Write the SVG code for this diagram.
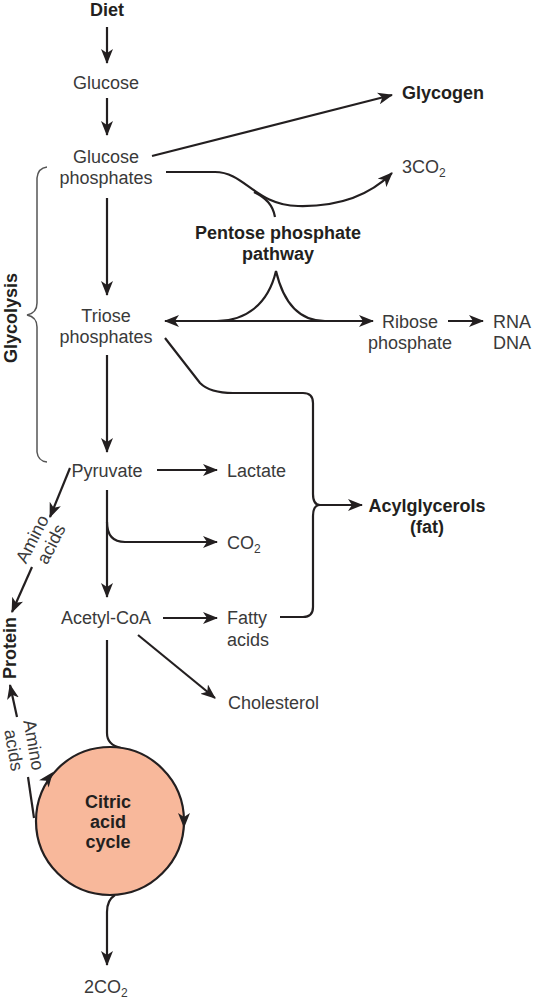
<svg xmlns="http://www.w3.org/2000/svg" width="537" height="999" viewBox="0 0 537 999">
<defs>
<marker id="ah" viewBox="0 0 15 12" refX="14" refY="6" markerWidth="15" markerHeight="12" orient="auto-start-reverse" markerUnits="userSpaceOnUse"><path d="M0,0 L15,6 L0,12 L4,6 z" fill="#231f20"/></marker>
</defs>
<style>
text{font-family:"Liberation Sans",Arial,sans-serif;font-size:18px;fill:#3a3a3a}
.b{font-weight:bold;fill:#231f20}
.m{text-anchor:middle}
.sub{font-size:12px}
.ln{fill:none;stroke:#231f20;stroke-width:2.2}
.ar{marker-end:url(#ah)}
.thin{fill:none;stroke:#555;stroke-width:1.5}
</style>
<rect width="537" height="999" fill="#fff"/>
<g id="connectors">
<path class="ln ar" d="M107,27 L107,63"/>
<path class="ln ar" d="M107,98 L107,135"/>
<path class="ln ar" d="M152,156 L392,95"/>
<path class="ln ar" d="M166,172 L215,172 C245,172 255,205 298,206 C340,207 370,195 392,173"/>
<path class="ln" d="M275,217 C273,205 266,198 254,192"/>
<path class="ln ar" d="M107,198 L107,295"/>
<path class="ln" d="M165,321 L373,321" marker-start="url(#ah)" marker-end="url(#ah)"/>
<path class="ln" d="M217,321 C245,321 268,305 276,271 C284,305 300,321 325,321"/>
<path class="ln ar" d="M448,321 L483,321"/>
<path class="ln ar" d="M107,355 L107,452"/>
<path class="ln" d="M165,338 L200,383 Q210,393 233,393 L303,393 Q313,393 313,403 L313,494 Q313,505 320,505 Q313,505 313,516 L313,607 Q313,617 303,617 L280,617"/>
<path class="ln ar" d="M318,505 L362,505"/>
<path class="ln ar" d="M157,470 L217,470"/>
<path class="ln ar" d="M107,490 L107,597"/>
<path class="ln ar" d="M107,522 Q107,542 125,542 L217,542"/>
<path class="ln ar" d="M163,618 L217,618"/>
<path class="ln ar" d="M138,635 L215,698"/>
<path class="ln ar" d="M70,468 L50,517"/>
<path class="ln ar" d="M32,567 L12,612"/>
<path class="ln" d="M107,640 L107,733 Q107,745 121,748"/>
<path class="ln" d="M34,818 L28,777"/>
<path class="ln ar" d="M17,717 L10,685"/>
<path class="ln ar" d="M115,895 Q107,900 107,912 L107,965"/>
<path class="thin" d="M47,167 Q38,168 37,178 L37,303 Q37,313 27,315 Q37,317 37,327 L37,452 Q38,461 47,462"/>
</g>
<g id="diet"><text class="b m" x="107" y="16">Diet</text></g>
<g id="glucose"><text class="m" x="106" y="89">Glucose</text></g>
<g id="glucose-phosphates"><text class="m" x="106" y="163">Glucose</text><text class="m" x="106" y="184">phosphates</text></g>
<g id="glycogen"><text class="b" x="402" y="99">Glycogen</text></g>
<g id="co2-3"><text x="402" y="173">3CO<tspan class="sub" dy="4">2</tspan></text></g>
<g id="ppp"><text class="b m" x="278" y="239">Pentose phosphate</text><text class="b m" x="278" y="260">pathway</text></g>
<g id="triose"><text class="m" x="106" y="322">Triose</text><text class="m" x="106" y="343">phosphates</text></g>
<g id="ribose"><text class="m" x="410" y="328">Ribose</text><text class="m" x="410" y="349">phosphate</text></g>
<g id="rna"><text x="493" y="328">RNA</text><text x="493" y="349">DNA</text></g>
<g id="glycolysis"><text class="b m" transform="translate(11,318) rotate(-90)" dy=".35em">Glycolysis</text></g>
<g id="pyruvate"><text class="m" x="107" y="477">Pyruvate</text></g>
<g id="lactate"><text x="227" y="477">Lactate</text></g>
<g id="co2"><text x="227" y="549">CO<tspan class="sub" dy="4">2</tspan></text></g>
<g id="acyl"><text class="b m" x="427" y="512">Acylglycerols</text><text class="b m" x="427" y="533">(fat)</text></g>
<g id="acetyl"><text class="m" x="106" y="624">Acetyl-CoA</text></g>
<g id="fatty"><text x="227" y="624">Fatty</text><text x="227" y="646">acids</text></g>
<g id="cholesterol"><text x="228" y="709">Cholesterol</text></g>
<g id="amino1"><text class="m" transform="translate(32,539) rotate(-63)" dy=".35em">Amino</text><text class="m" transform="translate(51,544) rotate(-63)" dy=".35em">acids</text></g>
<g id="protein"><text class="b m" transform="translate(10,648) rotate(-90)" dy=".35em">Protein</text></g>
<g id="amino2"><text class="m" transform="translate(34,745) rotate(80)" dy=".35em">Amino</text><text class="m" transform="translate(14,750) rotate(80)" dy=".35em">acids</text></g>
<g id="tca">
<circle cx="110" cy="821" r="74" fill="#f8b89b" stroke="#231f20" stroke-width="2.2"/>
<path d="M0,0 L-15,-6 L-11,0 L-15,6 z" fill="#231f20" transform="translate(184,828) rotate(90)"/>
<path d="M0,0 L-15,-6 L-11,0 L-15,6 z" fill="#231f20" transform="translate(53,772) rotate(-52.5)"/>
<text class="b m" x="108" y="808">Citric</text><text class="b m" x="108" y="828">acid</text><text class="b m" x="108" y="848">cycle</text>
</g>
<g id="co2-2"><text x="84" y="993">2CO<tspan class="sub" dy="4">2</tspan></text></g>
</svg>
